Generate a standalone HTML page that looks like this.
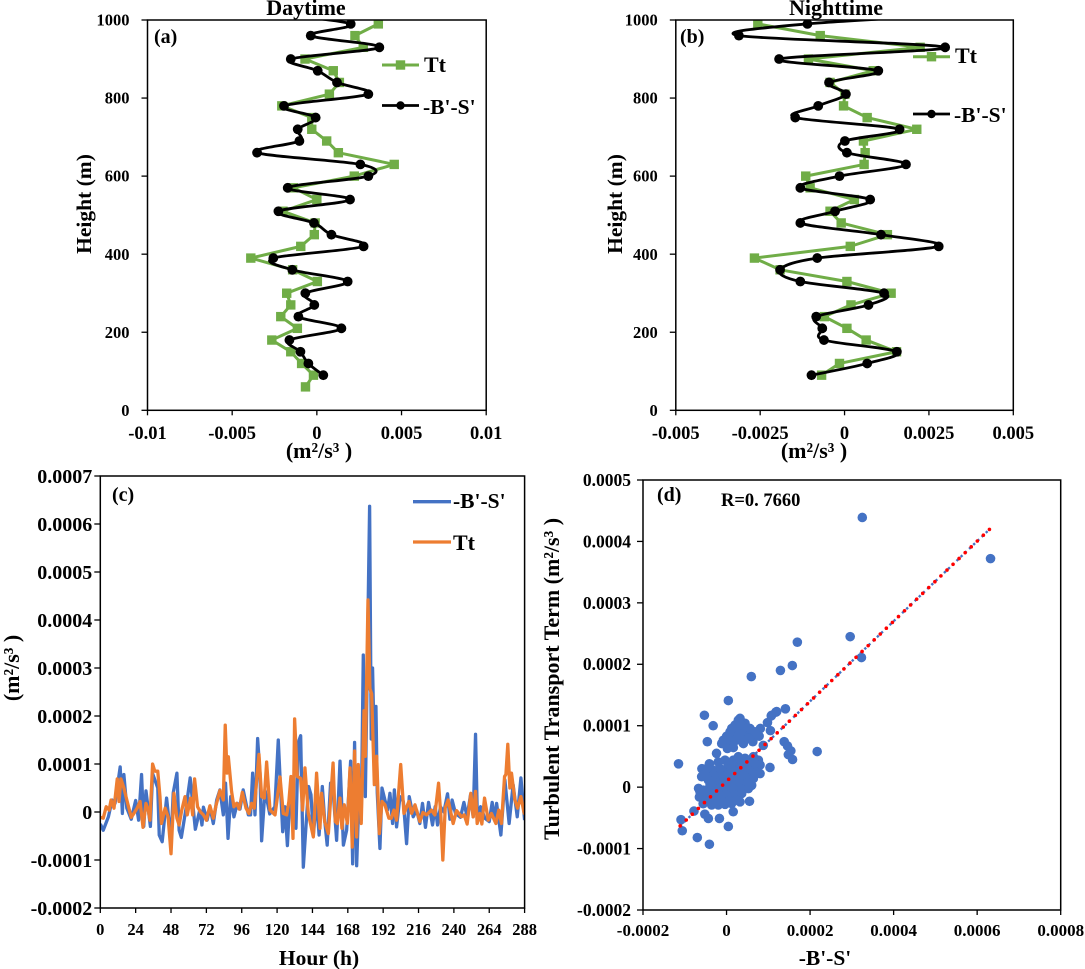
<!DOCTYPE html>
<html>
<head>
<meta charset="utf-8">
<title>Turbulent transport charts</title>
<style>
html,body{margin:0;padding:0;background:#fff;}
svg{display:block;}
text{font-family:"Liberation Serif",serif;font-weight:bold;fill:#000;}
</style>
</head>
<body>
<svg id="fig" width="1085" height="969" viewBox="0 0 1085 969" xmlns="http://www.w3.org/2000/svg">
<defs>
<clipPath id="clip-a"><rect x="147" y="20" width="340" height="391"/></clipPath>
<clipPath id="clip-b"><rect x="675" y="20" width="339" height="391"/></clipPath>
<clipPath id="clip-c"><rect x="100" y="476" width="425" height="432"/></clipPath>
</defs>
</svg>
<script>
// ---------- Panel (a) Daytime ----------
const dayTtHeights = [990,960,930,900,870,840,810,780,750,720,690,660,630,600,570,540,510,480,450,420,390,360,330,300,270,240,210,180,150,120,90,60];
const dayTtValues = [0.00363,0.00225,0.00274,-0.0007,0.00097,0.00133,0.00074,-0.00207,-0.0003,-0.0003,0.00058,0.00127,0.00457,0.00221,-0.00139,0,-0.002,-0.0001,-0.00015,-0.00095,-0.0039,-0.00143,0.00003,-0.00178,-0.00154,-0.00213,-0.00115,-0.00266,-0.00154,-0.0009,-0.0002,-0.00067];
const dayFluxHeights = [1020,990,960,930,900,870,840,810,780,750,720,690,660,630,600,570,540,510,480,450,420,390,360,330,300,270,240,210,180,150,120,90];
const dayFluxValues = [-0.00335,0.002,-0.00036,0.00369,-0.00154,0.00005,0.00119,0.00304,-0.00194,-0.00007,-0.00113,-0.00103,-0.00353,0.00257,0.00304,-0.00172,0.00196,-0.00227,-0.00017,0.00086,0.00276,-0.00257,-0.00145,0.00182,-0.00068,-0.00015,-0.00109,0.00145,-0.00162,-0.00097,-0.0005,0.00038];
const dayXTicks = [-0.01,-0.005,0,0.005,0.01];
const dayXLabels = ['-0.01','-0.005','0','0.005','0.01'];

// ---------- Panel (b) Nighttime ----------
const nightTtHeights = [990,960,930,900,870,840,810,780,750,720,690,660,630,600,570,540,510,480,450,420,390,360,330,300,270,240,210,180,150,120,90];
const nightTtValues = [-0.00257,-0.00072,0.00224,-0.00107,0.00085,-0.00043,0.00001,-0.00003,0.00067,0.00214,0.00056,0.00061,0.00058,-0.00115,-0.00102,0.00029,-0.00043,-0.0001,0.00127,0.00017,-0.00267,-0.00191,0.00007,0.00138,0.00019,-0.0006,0.00007,0.00064,0.00154,-0.00015,-0.00068];
const nightFluxHeights = [1020,990,960,930,900,870,840,810,780,750,720,690,660,630,600,570,540,510,480,450,420,390,360,330,300,270,240,210,180,150,120,90];
const nightFluxValues = [0.0047,-0.0011,-0.00313,0.00298,-0.00194,0.001,-0.00046,0.00004,-0.00078,-0.00146,0.00163,0.00001,0.00007,0.00182,-0.00015,-0.00131,0.00076,-0.00028,-0.00131,0.00108,0.00279,-0.00081,-0.00191,-0.00131,0.00117,0.00071,-0.00084,-0.00066,-0.00061,0.00155,0.00067,-0.00098];
const nightXTicks = [-0.005,-0.0025,0,0.0025,0.005];
const nightXLabels = ['-0.005','-0.0025','0','0.0025','0.005'];
const heightTicks = [0,200,400,600,800,1000];

// ---------- Panel (c) time series, values in units of 1e-5 ----------
const fluxHours = [0,2,5.5,8,10,13.5,15,16,18,21,24,26,28,29.5,31,34,35.5,39,40,42,45,48,49.5,52,53.5,55,58,61,64.5,67.5,69,70,72.5,74.4,76.7,79,81.2,83.5,85,86.7,88.5,90.7,93,94.8,97,100.5,102,103.4,105,106.8,108.4,109.5,111.8,115,118.5,120.8,122.4,123.8,125.3,127,128.7,132.8,134.4,136,137.8,139.6,141.4,143,144.6,146.8,148.5,150.7,152.3,154,156.3,158,160.4,162.7,165,167.2,169.9,171.3,172.6,174,175.8,177.1,178.5,179.9,182.8,183.9,184.8,186,187.1,188,189.8,191.2,193.2,195,196.6,198.4,199.6,201.1,203.4,205.7,207.9,209.7,212.4,214.7,216.9,218.7,220.7,222.8,225.5,227.3,228.9,230.9,233.2,235.7,237.3,238.8,241.1,244.5,246.8,249,251.3,253.1,254.7,256,258.1,261,264,266,267.6,269,271.9,274.6,277.5,280.2,283,285.5,288];
const fluxValues = [-2.5,-3.8,-1,2.5,1.8,9.4,-0.3,7.8,0.8,-1.5,2.4,-1.7,7.8,-3,4.4,-3,8,5,-4.8,-6.2,2.9,-5.8,4,8.1,-3.8,-5.3,0.4,7.1,-3.6,0.4,-2.7,1,-1.7,1,-2.4,2.5,4.6,-0.6,6,-5.5,3.2,-1,1.8,0.6,4.6,-0.6,-0.6,8.1,-0.6,15.3,8,-6,4.6,-0.4,1.1,15,4.6,-4.1,1.1,-7,2.9,-3.4,14.5,15.9,-11.5,-3,5.3,3.6,-4.8,2.5,-4.8,5.3,-1.7,-6.9,6,4.6,-5.9,10.6,-6.9,-3.8,10.6,-10.8,14.5,-11.2,5.3,-1.7,32.7,3.2,63.7,15.2,30,12.4,22,3.9,-7.6,5,2.5,0.4,3.9,-2.4,4.6,-3.1,3.2,2.2,-6.6,3.2,-1,0.4,-2.4,1.8,-3.2,2,-2.7,1.1,-2.7,1.1,0,3.8,-1.5,2.5,-0.3,-1.1,2,-1,3.6,-1,16.2,-2,1.1,-1.3,-2,2,-1.7,1.8,-4.8,6.7,-2.4,5.7,-1,7.1,-1.7];
const ttHours = [0,2,4,6,7.3,9.3,11.5,12.7,14,16,18,21,22.6,25,27,29,31,32.6,33.7,35.5,37,39,40.5,41.5,44,46,48,50,52,53.5,55.3,57.5,59,61.3,62.7,64,66,68,70,72,74.4,76.7,78.5,81.2,83.5,84.8,86,86.9,89.1,90.7,92.5,94.3,96.4,98.9,100.9,102.7,104.5,107.7,109.5,111.3,112.9,115.2,118.6,122,124.2,126.5,128,129.4,130.8,131.9,133.7,136,137.3,138.9,141.2,144.6,146.8,149.1,150.2,152.3,154.8,156.3,158,159.5,160.9,162.7,164,165.6,167.7,169.5,171,172.6,174,175.1,177.1,179,179.9,181.7,183,184.2,186,187.6,189.4,191.2,193.2,195.9,197.5,199.3,201.1,203.9,206.1,209.5,211.3,213.6,216.9,219,221.4,224.8,227.1,229.6,231.2,232.5,234.1,236.1,239.5,241.8,245.2,247,249,251.5,253.1,254.7,255.8,257.6,259,260.8,263.3,265.5,268.5,270.5,272.3,274.4,275.3,276.6,278,279.1,281.4,283.2,285.5,287.5,288];
const ttValues = [-1.1,-1.3,1.1,0.4,2.5,0.8,6.9,2.2,6.9,5,2.5,-1.1,-0.4,0.8,2.2,-3.2,1.8,0.4,-1.7,10,8.5,8.5,3.2,-2.4,0.8,-1,-8.7,3.9,-1.3,-2.7,0.4,3.2,-0.6,2.9,-0.6,6.9,1.1,0,-0.6,-1.7,1.3,-1.3,1.3,4.5,2.5,18.1,8.1,11.5,4.3,1.1,1.8,0.6,4.1,0.8,-0.3,1.8,0.8,12,3.2,2.9,10.4,0.4,-0.6,7.3,-0.3,-0.6,2.2,7.4,-5.5,19.4,7.4,7,0.4,9.2,-0.3,-5.2,8.1,-3.4,3.9,-2,-4.5,2.5,10.2,-2,-2.4,2.9,-3.4,1.5,-2.4,9.2,-7.3,12.7,-5.2,9.9,-2.4,21.1,11.6,44.2,25.7,24.6,5.7,11.6,-4.5,2.2,1.5,-1.3,-1.3,0.4,-1.7,9.9,-0.3,2.2,-0.3,1.5,-2,-0.1,-0.6,0.4,-0.6,6,-1,-10,0.8,2.5,-2.4,0.3,-1,-0.6,-2.5,3.9,-1,4.3,-2.4,-0.3,-2.5,2.9,-1.7,-0.3,-2.4,0.4,-2.4,7.4,7.8,14.1,5,8.1,2.5,0.8,3.2,0,-0.5];
const timeTicks = [0,24,48,72,96,120,144,168,192,216,240,264,288];
const seriesYTicks = [-0.0002,-0.0001,0,0.0001,0.0002,0.0003,0.0004,0.0005,0.0006,0.0007];
const seriesYLabels = ['-0.0002','-0.0001','0','0.0001','0.0002','0.0003','0.0004','0.0005','0.0006','0.0007'];
const UNIT = 1e-5;

// ---------- Panel (d) scatter, values in units of 1e-5 ----------
const scatterX = [32.5,63.2,29.6,32.3,16.95,15.75,12.9,5.93,0.43,-5.3,-3.2,14.1,11.8,10.7,9.8,8.1,10.5,12,10.8,6.3,7.8,13.8,14.6,15.4,14.8,15.8,21.7,10.4,8.8,-4.6,-11.5,-10.9,-10.6,-7,-4.1,0.43,-1.7,1.6,5.5,-4.35,-5.2,-7.8,-6.7,-6.5,-5.9,-5.95,-4.1,-2.4,-2,-5.6,3.23,2.03,4.43,1.63,2.83,4.03,5.22,0.04,1.23,2.83,4.43,6,-1.16,0.43,2.03,4.03,0.2,1.63,2.83,1.63,4.43,6.42,7.62,0.43,2.03,3.63,5.62,8.02,6.82,8.02,-0.76,0.83,2.43,4.43,6.02,-1.96,-0.36,1.63,3.23,5.22,-3.16,-1.56,0.2,2.03,4.03,6.02,-3.95,-2.36,-0.76,0.83,2.43,-3.16,-1.56,0.04,1.63,3.23,-3.56,-1.96,-0.36,1.23,-3.95,-3.16,-4.35,-5.15,-5.55,-6.35,3.39,5.22,6.82,1.23,2.83,-1.56,0.2,2.03,4.03,6.42,-2.76,-0.76,1.23,3.23,4.98,-3.56,-1.72,0.04,1.79,3.63,5.22,-4.75,-3.16,-1.56,0.04,2.03,3.63,-2.36,-0.76,0.67,2.43,-4.75,-3.95,-4.59,-3.56,-2.76,-4.75,-1.56,-0.36,2.83,3.63,4.83,2.43,3.63,0.83,2.43,-0.76,3.23,5.22,5.62,1.23,6.82];
const scatterY = [43.9,37.2,24.5,21.1,23.6,19.8,19,18,14.1,11.7,10,12.75,12.2,11.6,10.5,9.55,9.2,12.3,11.7,7.4,8.3,7.4,6.7,5.9,5.3,4.5,5.8,3.2,6.8,7.4,3.8,-5.3,-7.1,-8.2,-9.3,-6.4,-5.1,-4,-2.3,-5.1,-4.4,-3.9,-0.2,-1.6,3,1.7,3.8,5.5,4.1,-2.7,11.2,10.1,10.4,9,9.55,9.3,9,8.3,8.5,8.5,8.2,8.5,7.1,7.65,7.65,7.1,6.3,6.45,4.95,4.4,4.7,4.95,4.4,3.6,3.3,3.6,3.85,3.6,2.5,2.2,2.5,2.2,2.2,2.5,2.2,1.7,1.4,1.15,1.4,1.4,0.6,0.5,0.3,0.15,0.3,0.3,-0.5,-0.77,-0.77,-0.77,-0.77,-1.85,-1.85,-1.85,-1.6,-2.4,-2.9,-2.9,-2.8,-2.65,1.95,2.76,1.15,2.2,-0.5,-0.77,4.39,3.03,3.85,3.03,2.76,1.95,1.95,1.68,1.95,1.4,1.02,0.86,0.7,0.7,0.7,0.05,-0.23,-0.23,-0.39,-0.39,-0.23,-1.04,-1.15,-1.31,-1.31,-1.31,-1.04,-2.4,-2.4,-2.23,-2.13,-2.13,0.32,1.68,1.4,2.22,3.03,3.03,4.39,10.9,10.1,9.55,9,8.5,9,7.65,7.65,7.92,7.92,9.55,9.55,9];
const trendX = [-11.1,63];
const trendY = [-6.3,42];
const scatterXTicks = [-0.0002,0,0.0002,0.0004,0.0006,0.0008];
const scatterXLabels = ['-0.0002','0','0.0002','0.0004','0.0006','0.0008'];
const scatterYTicks = [-0.0002,-0.0001,0,0.0001,0.0002,0.0003,0.0004,0.0005];
const scatterYLabels = ['-0.0002','-0.0001','0','0.0001','0.0002','0.0003','0.0004','0.0005'];

const svg = document.getElementById('fig');
const NS = 'http://www.w3.org/2000/svg';

function make(tag, attrs, parent) {
  const el = document.createElementNS(NS, tag);
  for (const k in attrs) el.setAttribute(k, attrs[k]);
  (parent || svg).appendChild(el);
  return el;
}
function scale(d0, d1, r0, r1) {
  return v => r0 + (v - d0) / (d1 - d0) * (r1 - r0);
}
function straightPath(pts) {
  return pts.map((p, i) => (i ? 'L' : 'M') + p[0].toFixed(2) + ' ' + p[1].toFixed(2)).join('');
}
function smoothPath(pts) {
  let d = 'M' + pts[0][0].toFixed(2) + ' ' + pts[0][1].toFixed(2);
  for (let i = 0; i < pts.length - 1; i++) {
    const p0 = pts[Math.max(i - 1, 0)], p1 = pts[i], p2 = pts[i + 1], p3 = pts[Math.min(i + 2, pts.length - 1)];
    const c1x = p1[0] + (p2[0] - p0[0]) / 6, c1y = p1[1] + (p2[1] - p0[1]) / 6;
    const c2x = p2[0] - (p3[0] - p1[0]) / 6, c2y = p2[1] - (p3[1] - p1[1]) / 6;
    d += 'C' + c1x.toFixed(2) + ' ' + c1y.toFixed(2) + ' ' + c2x.toFixed(2) + ' ' + c2y.toFixed(2) + ' ' + p2[0].toFixed(2) + ' ' + p2[1].toFixed(2);
  }
  return d;
}
function label(str, x, y, size, anchor, name, rotate) {
  const t = make('text', {x: x, y: y, 'font-size': size, 'text-anchor': anchor || 'start'});
  if (rotate) t.setAttribute('transform', 'rotate(-90 ' + x + ' ' + y + ')');
  t.textContent = str;
  
  
  return t;
}
function frame(box, name) {
  const r = make('rect', {x: box.l, y: box.t, width: box.r - box.l, height: box.b - box.t, fill: 'none', stroke: '#000', 'stroke-width': 1.5});
  
  
}
function axes(box, sx, sy, xTicks, xLabels, yTicks, yLabels, xSize, ySize, xBase) {
  xTicks.forEach((v, i) => {
    const px = sx(v);
    const tick = make('line', {x1: px, x2: px, y1: box.b, y2: box.b + 5, stroke: '#000', 'stroke-width': 1.3});
    
    
    label(xLabels[i], px, xBase, xSize, 'middle', 'x-tick-label');
  });
  yTicks.forEach((v, i) => {
    const py = sy(v);
    const tick = make('line', {x1: box.l - 6, x2: box.l, y1: py, y2: py, stroke: '#000', 'stroke-width': 1.3});
    
    
    label(yLabels[i], box.l - box.gap, py + ySize * 0.34, ySize, 'end', 'y-tick-label');
  });
}
function profilePanel(box, clip, xMax, ttH, ttV, fxH, fxV, xTicks, xLabels, prefix) {
  const sx = scale(-xMax, xMax, box.l, box.r);
  const sy = scale(0, 1000, box.b, box.t);
  const g = make('g', {'clip-path': 'url(#' + clip + ')'});
  
  
  const ttPts = ttV.map((v, i) => [sx(v), sy(ttH[i])]);
  const ttLine = make('path', {d: straightPath(ttPts), fill: 'none', stroke: '#70AD47', 'stroke-width': 3, 'stroke-linejoin': 'round'}, g);
  
  
  ttPts.forEach(p => {
    const m = make('rect', {x: p[0] - 4.7, y: p[1] - 4.7, width: 9.4, height: 9.4, fill: '#70AD47'}, g);
    
    
  });
  const fxPts = fxV.map((v, i) => [sx(v), sy(fxH[i])]);
  const fxLine = make('path', {d: smoothPath(fxPts), fill: 'none', stroke: '#000', 'stroke-width': 2.8, 'stroke-linejoin': 'round'}, g);
  
  
  fxPts.forEach(p => {
    const m = make('circle', {cx: p[0], cy: p[1], r: 4.9, fill: '#000'}, g);
    
    
  });
  frame(box, prefix + '-plot-frame');
  axes(box, sx, sy, xTicks, xLabels, heightTicks, heightTicks.map(String), 18.5, 16.5, 439);
}

// Panel a
const boxA = {l: 147.5, r: 486.2, t: 20, b: 410.3, gap: 18};
profilePanel(boxA, 'clip-a', 0.01, dayTtHeights, dayTtValues, dayFluxHeights, dayFluxValues, dayXTicks, dayXLabels, 'daytime');
label('Daytime', 306, 15, 22, 'middle', 'daytime-title');
label('(a)', 154, 43, 20, 'start', 'panel-a-label');
label('Height (m)', 91, 204, 21.5, 'middle', 'panel-a-y-axis-title', true);
label('(m²/s³ )', 319, 458, 22, 'middle', 'panel-a-x-axis-title');

// Panel b
const boxB = {l: 675.8, r: 1013.3, t: 20, b: 410.3, gap: 18};
profilePanel(boxB, 'clip-b', 0.005, nightTtHeights, nightTtValues, nightFluxHeights, nightFluxValues, nightXTicks, nightXLabels, 'nighttime');
label('Nighttime', 836, 15, 22, 'middle', 'nighttime-title');
label('(b)', 680, 43, 20, 'start', 'panel-b-label');
label('Height (m)', 622, 204, 21.5, 'middle', 'panel-b-y-axis-title', true);
label('(m²/s³ )', 814, 458, 22, 'middle', 'panel-b-x-axis-title');

// Profile legends
function profileLegend(x1, x2, yTt, yFlux, textX, baseTt, baseFlux, prefix) {
  const a = make('line', {x1: x1, x2: x2, y1: yTt, y2: yTt, stroke: '#70AD47', 'stroke-width': 3});
  
  
  const s = make('rect', {x: (x1 + x2) / 2 - 4.7, y: yTt - 4.7, width: 9.4, height: 9.4, fill: '#70AD47'});
  
  
  label('Tt', textX + 1, baseTt, 22, 'start', prefix + '-legend-tt');
  const b = make('line', {x1: x1, x2: x2, y1: yFlux, y2: yFlux, stroke: '#000', 'stroke-width': 2.8});
  
  
  const c = make('circle', {cx: (x1 + x2) / 2, cy: yFlux, r: 4.2, fill: '#000'});
  
  
  label("-B'-S'", textX, baseFlux, 21.5, 'start', prefix + '-legend-flux');
}
profileLegend(382, 419, 65, 105.5, 423, 72, 114, 'daytime');
profileLegend(913, 950, 56.7, 114, 954, 63, 122, 'nighttime');

// Panel c
const boxC = {l: 100.3, r: 524.6, t: 476, b: 908, gap: 8};
const sxC = scale(0, 288, boxC.l, boxC.r);
const syC = scale(-0.0002, 0.0007, boxC.b, boxC.t);
const gC = make('g', {'clip-path': 'url(#clip-c)'});


const fluxPts = fluxHours.map((h, i) => [sxC(h), syC(fluxValues[i] * UNIT)]);
const ttPts = ttHours.map((h, i) => [sxC(h), syC(ttValues[i] * UNIT)]);
const fluxLine = make('path', {d: straightPath(fluxPts), fill: 'none', stroke: '#4472C4', 'stroke-width': 3.3, 'stroke-linejoin': 'round'}, gC);


const ttLine = make('path', {d: straightPath(ttPts), fill: 'none', stroke: '#ED7D31', 'stroke-width': 3.3, 'stroke-linejoin': 'round'}, gC);


frame(boxC, 'panel-c-plot-frame');
axes(boxC, sxC, syC, timeTicks, timeTicks.map(String), seriesYTicks, seriesYLabels, 16.5, 20, 935);
label('(c)', 112, 501, 20, 'start', 'panel-c-label');
label('Hour (h)', 319, 965, 21.5, 'middle', 'panel-c-x-axis-title');
label('(m²/s³ )', 19, 668, 22, 'middle', 'panel-c-y-axis-title', true);
const lgFlux = make('line', {x1: 413, x2: 451, y1: 501.7, y2: 501.7, stroke: '#4472C4', 'stroke-width': 3.3});


label("-B'-S'", 453, 508, 21.5, 'start', 'panel-c-legend-flux');
const lgTt = make('line', {x1: 413, x2: 451, y1: 542, y2: 542, stroke: '#ED7D31', 'stroke-width': 3.3});


label('Tt', 453, 550, 22, 'start', 'panel-c-legend-tt');

// Panel d
const boxD = {l: 643, r: 1060.7, t: 480, b: 910, gap: 12};
const sxD = scale(-0.0002, 0.0008, boxD.l, boxD.r);
const syD = scale(-0.0002, 0.0005, boxD.b, boxD.t);
scatterX.forEach((x, i) => {
  const c = make('circle', {cx: sxD(x * UNIT), cy: syD(scatterY[i] * UNIT), r: 4.8, fill: '#4472C4'});
  
  
});
const trendBase = {x1: sxD(trendX[0] * UNIT), y1: syD(trendY[0] * UNIT), x2: sxD(trendX[1] * UNIT), y2: syD(trendY[1] * UNIT)};
const trendBlue = make('line', Object.assign({stroke: '#4472C4', 'stroke-width': 2.4, 'stroke-dasharray': '2.4 3.4'}, trendBase));


const trendRed = make('line', Object.assign({stroke: '#FF0000', 'stroke-width': 3.6, 'stroke-linecap': 'round', 'stroke-dasharray': '0 8.4'}, trendBase));


frame(boxD, 'panel-d-plot-frame');
axes(boxD, sxD, syD, scatterXTicks, scatterXLabels, scatterYTicks, scatterYLabels, 17, 17.5, 936);
label('(d)', 657, 501, 20, 'start', 'panel-d-label');
label('R=0. 7660', 721, 506, 18.5, 'start', 'correlation-label');
label("-B'-S'", 825, 965, 21.5, 'middle', 'panel-d-x-axis-title');
label('Turbulent Transport Term (m²/s³ )', 559, 679, 22, 'middle', 'panel-d-y-axis-title', true);
</script>
</body>
</html>
